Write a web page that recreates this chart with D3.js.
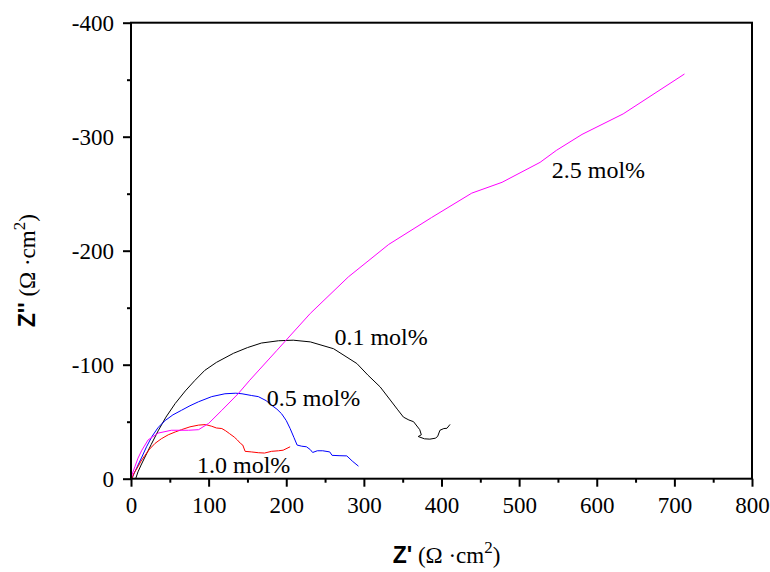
<!DOCTYPE html>
<html>
<head>
<meta charset="utf-8">
<script src="https://cdn.jsdelivr.net/npm/d3@7"></script>
<style>
  html, body { margin: 0; padding: 0; background: #fff; }
  svg { display: block; }
</style>
</head>
<body>
<svg id="chart" width="770" height="572"></svg>
<script>
// Nyquist plots: [Z', Z''] pairs (Ω·cm²), Z'' stored as negative values
const series01 = [[6,0],[9,6],[13,12],[18,19],[26,30],[35,42],[45,54],[57,66],[70,77],[82,86],[95,95],[110,102],[132,110],[150,115],[168,119],[190,121],[209,121.5],[231,120],[261,114],[291,101],[305,91],[321,80.5],[334,69],[343,61],[351,54],[358,51.5],[364,50],[372,43],[374,38.5],[370,37],[378,35],[385,34.7],[392,35.5],[395,37],[398,42.5],[403,44],[407,44.2],[411,47.6]];
const series05 = [[1,0],[5,6],[9,12],[14,19],[20,28],[27,37],[35,45],[44,51],[54,56],[65,60],[76,64],[87,67.5],[104,72],[121,74.5],[135,75],[143,74.5],[155,73],[164,72],[174,68.5],[181,64.5],[188,61],[194,57],[200,51],[205,44],[210,36],[214,29.5],[220,28.5],[226,28],[231,25.5],[234,23],[240,24.5],[247,24.5],[256,23.5],[259,20.5],[268,20.2],[278,20],[285,15.5],[293,11]];
const series10 = [[1,0],[4,5],[9,10.5],[13,15.5],[18,20.5],[24,26],[31,31],[39,35],[48,38.5],[57,41],[65,43],[76,45.5],[87,47],[96,47.5],[104,46],[110,44.5],[117,44],[122,42],[127,39.5],[133,36.5],[137,34],[141,31],[144,29.5],[147,24],[155,23.5],[164,22.8],[172,22.5],[181,24],[190,24.5],[196,25],[205,28]];
const series25 = [[0,0],[2,5],[5,10.5],[9,18],[14,25],[22,34],[35,40],[52,42.5],[74,42.5],[87,43],[100,48.5],[117,60],[138,74.5],[153,86.4],[188,112.6],[231,145],[280,177],[332,205.5],[387,229],[439,250.5],[478,260],[527,277.5],[548,288],[581,302],[634,320],[713,355]];

const seriesNames = ["0.1 mol%", "0.5 mol%", "1.0 mol%", "2.5 mol%"];
const seriesColors = ["#000000", "#0000ff", "#ff0000", "#ff00ff"];
const seriesData = [series01, series05, series10, series25];
// label anchor positions in data units [Z', -Z'']
const labelPos = [[262, 117], [175, 63.5], [85, 5.3], [542, 264]];

const xTicks = [0, 100, 200, 300, 400, 500, 600, 700, 800];
const yTicks = [0, -100, -200, -300, -400];

const svg = d3.select("#chart");
const plotLeft = 131, plotRight = 752, plotTop = 22.7, plotBottom = 478.7;

const x = d3.scaleLinear().domain([0, 800]).range([plotLeft, plotRight]);
const y = d3.scaleLinear().domain([0, -400]).range([plotBottom, plotTop]);

const serif = "'Liberation Serif', 'Times New Roman', serif";
const sans = "'Liberation Sans', Arial, sans-serif";

// curves
const line = d3.line().x(d => x(d[0])).y(d => y(-d[1]));
seriesData.forEach((s, i) => {
  svg.append("path")
    .datum(s)
    .attr("d", line)
    .attr("fill", "none")
    .attr("stroke", seriesColors[i])
    .attr("stroke-width", 1)
    .attr("stroke-linejoin", "round");
});

// frame
svg.append("rect")
  .attr("x", plotLeft).attr("y", plotTop)
  .attr("width", plotRight - plotLeft).attr("height", plotBottom - plotTop)
  .attr("fill", "none").attr("stroke", "#000").attr("stroke-width", 2);

// bottom axis
const xAxis = d3.axisBottom(x).tickValues(xTicks).tickSize(8).tickPadding(10).tickFormat(d => String(d));
const gx = svg.append("g").attr("transform", `translate(0,${plotBottom})`).call(xAxis);
const xMinor = d3.axisBottom(x).tickValues(d3.range(50, 800, 100)).tickSize(4).tickFormat("");
const gxm = svg.append("g").attr("transform", `translate(0,${plotBottom})`).call(xMinor);

// left axis
const yAxis = d3.axisLeft(y).tickValues(yTicks).tickSize(8).tickPadding(9).tickFormat(d => String(d));
const gy = svg.append("g").attr("transform", `translate(${plotLeft},0)`).call(yAxis);
const yMinor = d3.axisLeft(y).tickValues(d3.range(-50, -400, -100)).tickSize(4).tickFormat("");
const gym = svg.append("g").attr("transform", `translate(${plotLeft},0)`).call(yMinor);

[gx, gxm, gy, gym].forEach(g => {
  g.select(".domain").remove();
  g.selectAll("line").attr("stroke", "#000").attr("stroke-width", 2);
  g.selectAll("text").attr("font-family", serif).attr("font-size", 23).attr("fill", "#000");
});
gx.selectAll("text").attr("dy", "0.71em");

// series labels
seriesNames.forEach((name, i) => {
  svg.append("text")
    .attr("x", x(labelPos[i][0]))
    .attr("y", y(-labelPos[i][1]))
    .attr("font-family", serif)
    .attr("font-size", 24)
    .attr("fill", "#000")
    .text(name);
});

// axis titles
function title(sel, zName) {
  sel.attr("font-size", 23).attr("fill", "#000");
  sel.append("tspan").attr("font-family", sans).attr("font-weight", "bold").text(zName);
  sel.append("tspan").attr("font-family", serif).text(" (Ω ·cm");
  sel.append("tspan").attr("font-family", serif).attr("font-size", 17).attr("dy", -10).text("2");
  sel.append("tspan").attr("font-family", serif).attr("dy", 10).text(")");
}

const xt = svg.append("text")
  .attr("x", (plotLeft + plotRight) / 2 + 5)
  .attr("y", 563)
  .attr("text-anchor", "middle");
title(xt, "Z'");

const yt = svg.append("text")
  .attr("transform", `translate(35,${(plotTop + plotBottom) / 2 + 20}) rotate(-90)`)
  .attr("text-anchor", "middle");
title(yt, "Z''");
</script>
</body>
</html>
